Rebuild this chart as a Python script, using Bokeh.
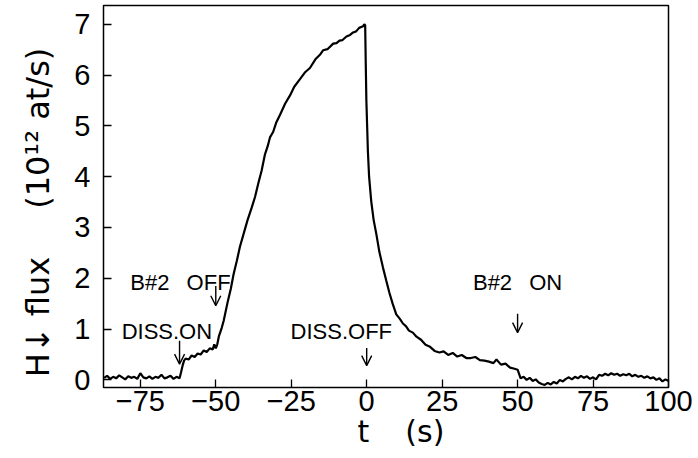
from bokeh.plotting import figure
from bokeh.models import Range1d, FixedTicker, ColumnDataSource, Arrow, OpenHead
from bokeh.core.properties import value
from bokeh.embed import file_html
from bokeh.resources import INLINE

# ---- data ----
t_s = [-87.0, -86, -85, -84, -83, -82, -81, -80, -79, -78, -77, -76, -75, -74, -73, -72,
       -71, -70, -69, -68, -67, -66, -65, -64, -63, -62,
       -61.5, -61, -60.5, -60, -59, -58, -57, -56, -55, -54, -53, -52, -51, -50.5, -50,
       -49.5, -49, -48, -47.4, -46, -45, -44.1, -43, -42, -40.8, -39.5, -38.1, -37, -35.9,
       -34.8, -33.7, -32.8, -32, -31, -30, -28.7, -27, -25.4, -24, -22.1, -20.5, -18.8,
       -17, -15.5, -14.4, -13, -11.1, -10, -9, -8, -6.7, -5.5, -4.5, -3.5, -2.5, -1.2, -0.8, -0.5,
       -0.3, -0.1, 0.2, 0.4, 0.8, 1.5, 2.3, 3.2, 4.2, 5.4, 6.5, 7.5, 8.6, 9.8, 11, 12, 13, 14,
       15.3, 16.5, 18, 19.5, 21, 22.5, 24.1, 25.5, 27, 28.5, 30, 31.5, 33, 34.5, 36, 37.5, 39,
       40.5, 42, 43, 44.5, 46, 47.5, 49, 50, 50.5, 51, 52, 53, 54, 55, 56, 57, 58, 59, 60, 61,
       62, 63, 64, 65, 66, 67, 68, 69, 70, 71, 72, 73, 74, 75, 76, 77, 78, 79, 80, 81, 82, 83,
       84, 85, 86, 87, 88, 89, 90, 91, 92, 93, 94, 95, 96, 97, 98, 99, 100]
flux = [0.04, 0.08, 0.02, 0.06, 0.03, 0.09, 0.05, 0.01, 0.07, 0.04, 0.06, 0.02, 0.13, 0.05, 0.03, 0.07,
        0.02, 0.06, 0.04, 0.10, 0.03, 0.05, 0.08, 0.02, 0.06, 0.03,
        0.15, 0.28, 0.38, 0.42, 0.40, 0.48, 0.45, 0.52, 0.50, 0.58, 0.55, 0.62, 0.60, 0.70, 0.62,
        0.70, 0.85, 1.03, 1.16, 1.55, 1.80, 2.08, 2.35, 2.62, 2.87, 3.14, 3.39, 3.60, 3.87,
        4.12, 4.44, 4.60, 4.78, 4.88, 5.06, 5.22, 5.44, 5.60, 5.77, 5.92, 6.05, 6.14,
        6.31, 6.40, 6.49, 6.51, 6.62, 6.63, 6.68, 6.69, 6.76, 6.79, 6.84, 6.86, 6.93, 6.96, 7.00, 6.98,
        6.20, 5.49, 4.90, 4.50, 4.00, 3.52, 3.15, 2.87, 2.52, 2.21, 1.95, 1.72, 1.50, 1.29, 1.20, 1.11, 1.06, 0.97,
        0.93, 0.85, 0.79, 0.69, 0.65, 0.57, 0.54, 0.56, 0.49, 0.53, 0.46, 0.49, 0.43, 0.43, 0.45, 0.39, 0.38,
        0.36, 0.33, 0.40, 0.30, 0.32, 0.24, 0.22, 0.20, 0.12, 0.03, 0.06, 0.00, 0.04, -0.02, 0.01, -0.05, -0.08, -0.10, -0.06, -0.09,
        -0.04, -0.07, 0.00, -0.03, 0.02, 0.05, 0.01, 0.06, 0.03, 0.08, 0.04, 0.07, 0.02, 0.05, 0.01, 0.10, 0.08, 0.12, 0.09, 0.13, 0.10, 0.12,
        0.08, 0.11, 0.09, 0.12, 0.07, 0.10, 0.06, 0.08, 0.04, 0.07, 0.03, 0.05, 0.00, 0.03, -0.03, 0.01, -0.02]

x_ticks = [-75, -50, -25, 0, 25, 50, 75, 100]
y_ticks = [0, 1, 2, 3, 4, 5, 6, 7]

event_t = [-62, -50, 0, 50]
arrow_tail = [0.77, 1.85, 0.63, 1.30]
arrow_tip = [0.31, 1.46, 0.28, 0.93]

note_text = ["DISS.ON", "B#2\u2002 OFF", "DISS.OFF", "B#2\u2002 ON"]
note_t = [-66.2, -61.7, -8.4, 50.0]
note_v = [0.96, 1.91, 0.96, 1.91]

FONT = "Liberation Sans"
LABEL_FONT = "DejaVu Sans"

p = figure(width=698, height=458, output_backend="svg", toolbar_location=None,
           x_range=Range1d(-87.2, 100), y_range=Range1d(-0.15, 7.37),
           min_border_left=103, min_border_right=30, min_border_top=5, min_border_bottom=71)
p.background_fill_color = "white"
p.border_fill_color = "white"
p.grid.visible = False
p.outline_line_color = "black"
p.outline_line_width = 1.5

p.line(t_s, flux, line_color="black", line_width=2.2)

src = ColumnDataSource(dict(x=event_t, y0=arrow_tail, y1=arrow_tip))
p.add_layout(Arrow(end=OpenHead(size=10, line_width=1.4, line_color="black"),
                   x_start="x", y_start="y0", x_end="x", y_end="y1", source=src,
                   line_width=1.4, line_color="black"))

p.text(x=note_t, y=note_v, text=note_text, text_font=value(FONT), text_font_size="22px",
       text_align="center", text_baseline="alphabetic", text_color="black")

for ax in (p.xaxis[0], p.yaxis[0]):
    ax.axis_line_color = None
    ax.major_tick_in = 8
    ax.major_tick_out = 0
    ax.major_tick_line_color = "black"
    ax.major_tick_line_width = 1.3
    ax.minor_tick_line_color = None
    ax.major_label_text_font = FONT
    ax.major_label_text_font_size = "29px"
    ax.major_label_text_color = "black"
    ax.axis_label_text_font = LABEL_FONT
    ax.axis_label_text_font_size = "30px"
    ax.axis_label_text_font_style = "normal"
    ax.axis_label_text_color = "black"

p.xaxis[0].ticker = FixedTicker(ticks=x_ticks)
p.yaxis[0].ticker = FixedTicker(ticks=y_ticks)
p.xaxis[0].major_label_overrides = {v: (("\u2212" + str(-v)) if v < 0 else str(v)) for v in x_ticks}
p.xaxis[0].major_label_standoff = 3
p.xaxis[0].axis_label = "\u2003t\u2003\u2009(s)"
p.xaxis[0].axis_label_standoff = 0
p.yaxis[0].major_label_standoff = 13
p.yaxis[0].axis_label = "H\u2193 flux\u2003\u2002(10\u00b9\u00b2 at/s)\u2003"
p.yaxis[0].axis_label_text_font_size = "32px"
p.yaxis[0].axis_label_standoff = 14

open("out.html", "w").write(file_html(p, INLINE))
